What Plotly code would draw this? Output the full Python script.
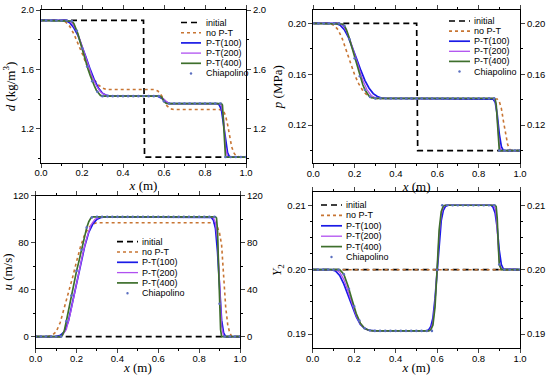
import plotly.graph_objects as go

W, H = 550, 375

SERIES = ["initial", "no P-T", "P-T(100)", "P-T(200)", "P-T(400)", "Chiapolino"]

# ---------------- density panel ----------------
D_X_INIT = [0.0, 0.5, 0.505, 1.0]
D_INIT = [1.93, 1.93, 1.01, 1.01]
D_X_NOPT = [0.0, 0.10, 0.12, 0.14, 0.16, 0.18, 0.20, 0.22, 0.24, 0.26, 0.28, 0.30, 0.32, 0.55, 0.57, 0.59, 0.61, 0.63, 0.65, 0.87, 0.89, 0.90, 0.91, 0.92, 0.93, 0.94, 0.95, 0.97, 1.0]
D_NOPT = [1.93, 1.93, 1.92, 1.89, 1.84, 1.78, 1.71, 1.64, 1.58, 1.53, 1.495, 1.475, 1.465, 1.465, 1.455, 1.42, 1.36, 1.335, 1.33, 1.33, 1.32, 1.29, 1.23, 1.15, 1.08, 1.04, 1.02, 1.01, 1.01]
D_X_PT100 = [0.0, 0.12, 0.14, 0.16, 0.18, 0.20, 0.22, 0.24, 0.26, 0.28, 0.30, 0.32, 0.34, 0.57, 0.59, 0.61, 0.63, 0.86, 0.87, 0.88, 0.89, 0.90, 0.91, 0.92, 1.0]
D_PT100 = [1.93, 1.93, 1.915, 1.88, 1.83, 1.76, 1.68, 1.60, 1.53, 1.475, 1.44, 1.425, 1.42, 1.42, 1.405, 1.38, 1.37, 1.37, 1.36, 1.33, 1.24, 1.12, 1.04, 1.01, 1.01]
D_X_PT200 = [0.0, 0.13, 0.15, 0.17, 0.19, 0.21, 0.23, 0.25, 0.27, 0.29, 0.31, 0.33, 0.575, 0.595, 0.615, 0.63, 0.87, 0.88, 0.89, 0.895, 0.90, 0.91, 1.0]
D_PT200 = [1.93, 1.93, 1.915, 1.87, 1.80, 1.72, 1.63, 1.55, 1.49, 1.45, 1.43, 1.42, 1.42, 1.405, 1.38, 1.37, 1.37, 1.355, 1.28, 1.18, 1.08, 1.01, 1.01]
D_X_PT400 = [0.0, 0.14, 0.15, 0.16, 0.17, 0.18, 0.19, 0.20, 0.21, 0.22, 0.23, 0.24, 0.25, 0.26, 0.27, 0.28, 0.29, 0.30, 0.58, 0.59, 0.60, 0.61, 0.62, 0.88, 0.885, 0.89, 0.895, 0.90, 1.0]
D_PT400 = [1.93, 1.93, 1.925, 1.91, 1.88, 1.84, 1.79, 1.74, 1.69, 1.64, 1.60, 1.56, 1.52, 1.49, 1.46, 1.44, 1.425, 1.42, 1.42, 1.41, 1.385, 1.372, 1.37, 1.37, 1.36, 1.25, 1.08, 1.01, 1.01]

# ---------------- pressure panel ----------------
P_X_INIT = [0.0, 0.5, 0.505, 1.0]
P_INIT = [0.2, 0.2, 0.1, 0.1]
P_X_NOPT = [0.0, 0.08, 0.10, 0.12, 0.14, 0.16, 0.18, 0.20, 0.22, 0.24, 0.26, 0.28, 0.30, 0.88, 0.89, 0.90, 0.91, 0.92, 0.93, 0.94, 0.95, 0.96, 1.0]
P_NOPT = [0.2, 0.2, 0.1985, 0.195, 0.188, 0.1785, 0.1685, 0.1595, 0.1525, 0.147, 0.1435, 0.1418, 0.141, 0.141, 0.1405, 0.1385, 0.133, 0.123, 0.113, 0.105, 0.101, 0.1, 0.1]
P_X_PT100 = [0.0, 0.11, 0.13, 0.15, 0.17, 0.19, 0.21, 0.23, 0.25, 0.27, 0.29, 0.31, 0.33, 0.35, 0.86, 0.87, 0.88, 0.89, 0.90, 0.91, 0.92, 1.0]
P_PT100 = [0.2, 0.2, 0.1985, 0.195, 0.189, 0.181, 0.172, 0.163, 0.155, 0.149, 0.1448, 0.1425, 0.1413, 0.141, 0.141, 0.1405, 0.138, 0.128, 0.113, 0.103, 0.1, 0.1]
P_X_PT200 = [0.0, 0.12, 0.14, 0.16, 0.18, 0.20, 0.22, 0.24, 0.26, 0.28, 0.30, 0.32, 0.87, 0.88, 0.885, 0.89, 0.895, 0.90, 0.91, 1.0]
P_PT200 = [0.2, 0.2, 0.1988, 0.194, 0.186, 0.1755, 0.1645, 0.155, 0.1478, 0.1433, 0.1415, 0.141, 0.141, 0.1395, 0.135, 0.125, 0.113, 0.104, 0.1, 0.1]
P_X_PT400 = [0.0, 0.13, 0.14, 0.15, 0.16, 0.17, 0.18, 0.19, 0.20, 0.21, 0.22, 0.23, 0.24, 0.25, 0.26, 0.27, 0.28, 0.29, 0.30, 0.875, 0.88, 0.885, 0.89, 0.895, 0.90, 1.0]
P_PT400 = [0.2, 0.2, 0.1995, 0.198, 0.195, 0.1905, 0.185, 0.179, 0.1725, 0.1665, 0.161, 0.156, 0.1515, 0.1478, 0.1448, 0.1428, 0.1417, 0.1412, 0.141, 0.141, 0.1402, 0.136, 0.122, 0.107, 0.1, 0.1]

# ---------------- velocity panel ----------------
U_X_INIT = [0.0, 1.0]
U_INIT = [0, 0]
U_X_NOPT = [0.0, 0.06, 0.08, 0.10, 0.12, 0.14, 0.16, 0.18, 0.20, 0.22, 0.24, 0.26, 0.28, 0.30, 0.87, 0.88, 0.89, 0.90, 0.91, 0.92, 0.93, 0.94, 0.95, 0.96, 1.0]
U_NOPT = [0, 0, 1, 4, 12, 24, 37, 50, 64, 77, 87, 93, 96, 97, 97, 96, 93, 88, 78, 50, 25, 10, 3, 0, 0]
U_X_PT100 = [0.0, 0.10, 0.12, 0.14, 0.16, 0.18, 0.20, 0.22, 0.24, 0.26, 0.28, 0.30, 0.32, 0.34, 0.85, 0.86, 0.87, 0.88, 0.89, 0.90, 0.91, 0.92, 0.93, 1.0]
U_PT100 = [0, 0, 1, 4, 13, 29, 46, 62, 77, 89, 96, 100, 101.5, 102, 102, 101.5, 99, 92, 72, 40, 14, 3, 0, 0]
U_X_PT200 = [0.0, 0.11, 0.13, 0.15, 0.17, 0.19, 0.21, 0.23, 0.25, 0.27, 0.29, 0.31, 0.33, 0.86, 0.87, 0.88, 0.89, 0.895, 0.90, 0.91, 0.92, 1.0]
U_PT200 = [0, 0, 1, 6, 20, 37, 54, 70, 84, 95, 100, 101.5, 102, 102, 101, 97, 82, 62, 38, 9, 0, 0]
U_X_PT400 = [0.0, 0.12, 0.13, 0.14, 0.15, 0.16, 0.17, 0.18, 0.19, 0.20, 0.21, 0.22, 0.23, 0.24, 0.25, 0.26, 0.27, 0.28, 0.29, 0.30, 0.88, 0.885, 0.89, 0.895, 0.90, 0.905, 0.91, 1.0]
U_PT400 = [0, 0, 1, 5, 13, 22, 31, 40, 48, 56, 63, 71, 78, 86, 93, 98, 101, 102, 102, 102, 102, 101, 90, 60, 28, 6, 0, 0]

# ---------------- mass fraction panel ----------------
Y_X_INIT = [0.0, 1.0]
Y_INIT = [0.2, 0.2]
Y_X_NOPT = [0.0, 1.0]
Y_NOPT = [0.2, 0.2]
Y_X_PT100 = [0.0, 0.09, 0.11, 0.13, 0.15, 0.17, 0.19, 0.21, 0.23, 0.25, 0.27, 0.29, 0.31, 0.55, 0.56, 0.57, 0.58, 0.59, 0.60, 0.61, 0.62, 0.63, 0.64, 0.65, 0.86, 0.87, 0.88, 0.89, 0.90, 0.91, 0.92, 1.0]
Y_PT100 = [0.2, 0.2, 0.1998, 0.1991, 0.1978, 0.1961, 0.1943, 0.1927, 0.1915, 0.1909, 0.1906, 0.1905, 0.1905, 0.1905, 0.1907, 0.1912, 0.1925, 0.1955, 0.2, 0.2045, 0.2076, 0.2092, 0.2098, 0.21, 0.21, 0.2097, 0.2088, 0.2065, 0.203, 0.2008, 0.2001, 0.2]
Y_X_PT200 = [0.0, 0.11, 0.13, 0.15, 0.17, 0.19, 0.21, 0.23, 0.25, 0.27, 0.29, 0.56, 0.57, 0.58, 0.59, 0.60, 0.61, 0.62, 0.63, 0.64, 0.87, 0.88, 0.885, 0.89, 0.895, 0.90, 0.91, 1.0]
Y_PT200 = [0.2, 0.2, 0.1996, 0.1985, 0.1967, 0.1947, 0.1929, 0.1916, 0.1909, 0.1906, 0.1905, 0.1905, 0.1908, 0.1918, 0.1948, 0.2, 0.2055, 0.2085, 0.2097, 0.21, 0.21, 0.2095, 0.2085, 0.2062, 0.2035, 0.2012, 0.2001, 0.2]
Y_X_PT400 = [0.0, 0.13, 0.15, 0.17, 0.19, 0.21, 0.23, 0.25, 0.27, 0.29, 0.56, 0.57, 0.58, 0.59, 0.60, 0.61, 0.62, 0.63, 0.64, 0.88, 0.885, 0.89, 0.895, 0.90, 0.91, 1.0]
Y_PT400 = [0.2, 0.2, 0.1993, 0.1975, 0.1953, 0.1932, 0.1917, 0.1909, 0.1906, 0.1905, 0.1905, 0.1907, 0.1914, 0.1942, 0.2, 0.2062, 0.209, 0.2099, 0.21, 0.21, 0.2098, 0.208, 0.204, 0.2008, 0.2, 0.2]

# ---------------- Chiapolino reference points ----------------
CHI_X = [0.0, 0.025, 0.05, 0.075, 0.1, 0.125, 0.15, 0.175, 0.2, 0.225, 0.25, 0.275, 0.3, 0.325, 0.35, 0.375, 0.4, 0.425, 0.45, 0.475, 0.5, 0.525, 0.55, 0.575, 0.6, 0.625, 0.65, 0.675, 0.7, 0.725, 0.75, 0.775, 0.8, 0.825, 0.85, 0.875, 0.9, 0.925, 0.95, 0.975, 1.0]
D_CHI = [1.93, 1.93, 1.93, 1.93, 1.93, 1.93, 1.925, 1.86, 1.74, 1.62, 1.52, 1.45, 1.42, 1.42, 1.42, 1.42, 1.42, 1.42, 1.42, 1.42, 1.42, 1.42, 1.42, 1.42, 1.385, 1.37, 1.37, 1.37, 1.37, 1.37, 1.37, 1.37, 1.37, 1.37, 1.37, 1.37, 1.01, 1.01, 1.01, 1.01, 1.01]
P_CHI = [0.2, 0.2, 0.2, 0.2, 0.2, 0.2, 0.198, 0.1875, 0.1725, 0.1585, 0.1478, 0.1422, 0.141, 0.141, 0.141, 0.141, 0.141, 0.141, 0.141, 0.141, 0.141, 0.141, 0.141, 0.141, 0.141, 0.141, 0.141, 0.141, 0.141, 0.141, 0.141, 0.141, 0.141, 0.141, 0.141, 0.141, 0.1, 0.1, 0.1, 0.1, 0.1]
U_CHI = [0, 0, 0, 0, 0, 0, 13, 35, 56, 74, 93, 101.5, 102, 102, 102, 102, 102, 102, 102, 102, 102, 102, 102, 102, 102, 102, 102, 102, 102, 102, 102, 102, 102, 102, 102, 102, 28, 0, 0, 0, 0]
Y_CHI = [0.2, 0.2, 0.2, 0.2, 0.2, 0.2, 0.1993, 0.197, 0.1943, 0.1921, 0.1909, 0.1906, 0.1905, 0.1905, 0.1905, 0.1905, 0.1905, 0.1905, 0.1905, 0.1905, 0.1905, 0.1905, 0.1905, 0.1905, 0.2, 0.21, 0.21, 0.21, 0.21, 0.21, 0.21, 0.21, 0.21, 0.21, 0.21, 0.21, 0.2008, 0.2, 0.2, 0.2, 0.2]

X_TICKS = [0.0, 0.2, 0.4, 0.6, 0.8, 1.0]

# ---------------- styles ----------------
STYLE = {
    "initial": dict(color="#000000", width=1.7, dash="6px,4px"),
    "no P-T": dict(color="#C87533", width=1.6, dash="dot"),
    "P-T(100)": dict(color="#1A1AE6", width=1.7, dash="solid"),
    "P-T(200)": dict(color="#B050F0", width=1.3, dash="solid"),
    "P-T(400)": dict(color="#3E6F2C", width=1.7, dash="solid"),
}
CHI_COLOR = "#5B6FC0"

PANELS = [
    dict(x="x", y="y", yr="y5",
         data=[(D_X_INIT, D_INIT), (D_X_NOPT, D_NOPT), (D_X_PT100, D_PT100),
               (D_X_PT200, D_PT200), (D_X_PT400, D_PT400), (CHI_X, D_CHI)]),
    dict(x="x2", y="y2", yr="y6",
         data=[(P_X_INIT, P_INIT), (P_X_NOPT, P_NOPT), (P_X_PT100, P_PT100),
               (P_X_PT200, P_PT200), (P_X_PT400, P_PT400), (CHI_X, P_CHI)]),
    dict(x="x3", y="y3", yr="y7",
         data=[(U_X_INIT, U_INIT), (U_X_NOPT, U_NOPT), (U_X_PT100, U_PT100),
               (U_X_PT200, U_PT200), (U_X_PT400, U_PT400), (CHI_X, U_CHI)]),
    dict(x="x4", y="y4", yr="y8",
         data=[(Y_X_INIT, Y_INIT), (Y_X_NOPT, Y_NOPT), (Y_X_PT100, Y_PT100),
               (Y_X_PT200, Y_PT200), (Y_X_PT400, Y_PT400), (CHI_X, Y_CHI)]),
]

fig = go.Figure()
for p in PANELS:
    for name, (xs, ys) in zip(SERIES, p["data"]):
        if name == "Chiapolino":
            # drawn against the right-hand (mirrored, same range) axis
            fig.add_trace(go.Scatter(x=xs, y=ys, name=name, mode="markers",
                                     marker=dict(size=2.6, color=CHI_COLOR),
                                     xaxis=p["x"], yaxis=p["yr"], showlegend=False))
        else:
            fig.add_trace(go.Scatter(x=xs, y=ys, name=name, mode="lines",
                                     line=STYLE[name], xaxis=p["x"], yaxis=p["y"],
                                     showlegend=False))

TICKFONT = dict(family="Liberation Sans, Arial, sans-serif", size=9.5, color="#000")
TITLEFONT = dict(family="Liberation Serif, Times New Roman, serif", size=13, color="#000")


def px2x(v):
    return v / W


def px2y(v):
    return 1 - v / H


def xaxis_def(dom, anchor):
    return dict(domain=dom, anchor=anchor, range=[0, 1], tickvals=X_TICKS,
                tickformat=".1f", ticks="outside", ticklen=4, tickwidth=1,
                showline=True, linecolor="#000", linewidth=1, mirror="ticks",
                showgrid=False, zeroline=False, tickfont=TICKFONT,
                ticklabelstandoff=-3,
                minor=dict(dtick=0.1, tick0=0, ticks="outside", ticklen=2, tickcolor="#000"),
                title=dict(text="<i>x</i> (m)", font=TITLEFONT, standoff=0),
                automargin=False)


def yaxis_def(dom, anchor, rng, dtick, tick0, mdtick, fmt, title=None, side="left", overlay=None):
    d = dict(range=rng, dtick=dtick, tick0=tick0, tickformat=fmt, ticks="outside",
             ticklen=4, tickwidth=1, showline=True, linecolor="#000", linewidth=1,
             showgrid=False, zeroline=False, tickfont=TICKFONT, anchor=anchor, side=side,
             minor=dict(dtick=mdtick, tick0=tick0, ticks="outside", ticklen=2, tickcolor="#000"),
             automargin=False)
    if overlay:
        d["overlaying"] = overlay
    else:
        d["domain"] = dom
    if title:
        d["title"] = dict(text=title, font=TITLEFONT, standoff=2)
    return d


X1 = [px2x(41), px2x(246)]
X2 = [px2x(313.3), px2x(520)]
X3 = [px2x(35.7), px2x(240)]
X4 = [px2x(312.7), px2x(520)]
Y1 = [px2y(163), px2y(10)]
Y2 = [px2y(163.3), px2y(10)]
Y3 = [px2y(348.3), px2y(195.7)]
Y4 = [px2y(348.3), px2y(191.7)]

R1 = [0.97, 2.0]
R2 = [0.09, 0.2105]
R3 = [-10, 120]
R4 = [0.1878, 0.2121]

layout = dict(
    width=W, height=H, margin=dict(l=0, r=0, t=0, b=0),
    paper_bgcolor="white", plot_bgcolor="white", showlegend=False,
    xaxis=xaxis_def(X1, "y"), xaxis2=xaxis_def(X2, "y2"),
    xaxis3=xaxis_def(X3, "y3"), xaxis4=xaxis_def(X4, "y4"),
    yaxis=yaxis_def(Y1, "x", R1, 0.4, 1.2, 0.2, ".1f", "<i>d</i> (kg/m<sup>3</sup>)"),
    yaxis5=yaxis_def(None, "x", R1, 0.4, 1.2, 0.2, ".1f", side="right", overlay="y"),
    yaxis2=yaxis_def(Y2, "x2", R2, 0.04, 0.12, 0.02, ".2f", "<i>p</i> (MPa)"),
    yaxis6=yaxis_def(None, "x2", R2, 0.04, 0.12, 0.02, ".2f", side="right", overlay="y2"),
    yaxis3=yaxis_def(Y3, "x3", R3, 40, 0, 20, "d", "<i>u</i> (m/s)"),
    yaxis7=yaxis_def(None, "x3", R3, 40, 0, 20, "d", side="right", overlay="y3"),
    yaxis4=yaxis_def(Y4, "x4", R4, 0.01, 0.19, 0.0025, ".2f", "<i>Y</i><sub>2</sub>"),
    yaxis8=yaxis_def(None, "x4", R4, 0.01, 0.19, 0.0025, ".2f", side="right", overlay="y4"),
)
fig.update_layout(**layout)

# ---------------- per-panel legends (pixel positions) ----------------
LEGENDS = [
    dict(x0=181, x1=201, tx=203.5, y0=22.5, dy=10.2),
    dict(x0=449, x1=470, tx=472, y0=21, dy=10.1),
    dict(x0=117, x1=138, tx=140, y0=241.7, dy=10.3),
    dict(x0=321, x1=342, tx=343.5, y0=205, dy=10.4),
]
LEGFONT = dict(family="Liberation Sans, Arial, sans-serif", size=9, color="#000")
shapes, annots = [], []
for lg in LEGENDS:
    for i, name in enumerate(SERIES):
        cy = lg["y0"] + i * lg["dy"]
        if name == "Chiapolino":
            cx = (lg["x0"] + lg["x1"]) / 2
            r = 1.2
            shapes.append(dict(type="circle", xref="paper", yref="paper",
                               x0=px2x(cx - r), x1=px2x(cx + r), y0=px2y(cy + r), y1=px2y(cy - r),
                               fillcolor=CHI_COLOR, line=dict(width=0)))
        else:
            st = STYLE[name]
            shapes.append(dict(type="line", xref="paper", yref="paper",
                               x0=px2x(lg["x0"]), x1=px2x(lg["x1"]), y0=px2y(cy), y1=px2y(cy),
                               line=dict(color=st["color"], width=st["width"], dash=st["dash"])))
        annots.append(dict(text=name, xref="paper", yref="paper", x=px2x(lg["tx"]), y=px2y(cy),
                           xanchor="left", yanchor="middle", showarrow=False, font=LEGFONT))
fig.update_layout(shapes=shapes, annotations=annots)

fig.write_html("out.html", config={"displayModeBar": False},
               post_script="document.body.style.margin='0';document.body.style.overflow='hidden';")
